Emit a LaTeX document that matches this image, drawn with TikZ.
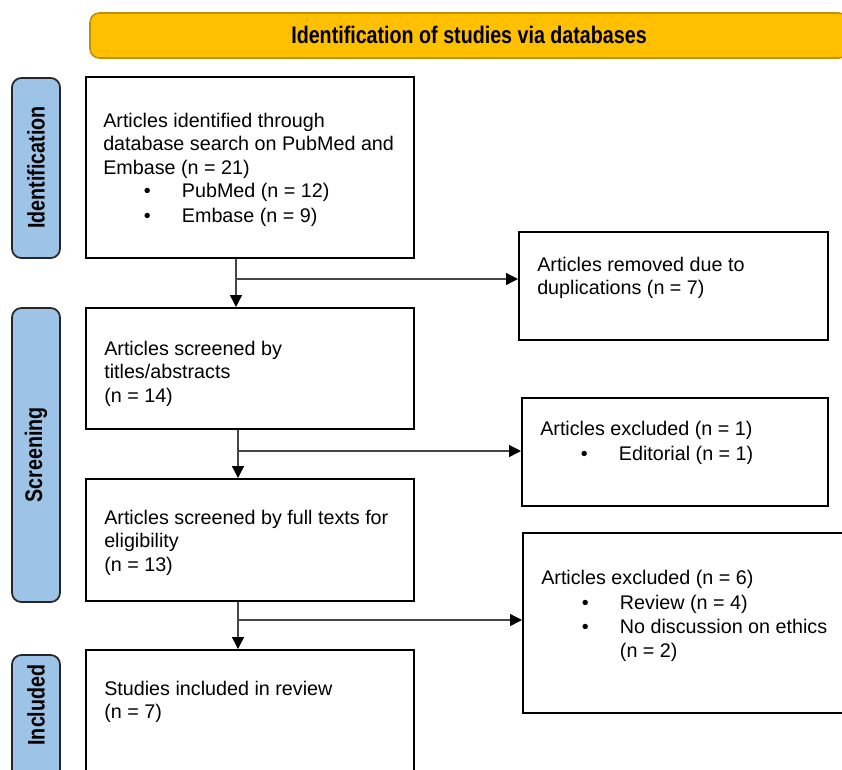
\documentclass[tikz,border=0pt]{standalone}
\usepackage{fontspec}
\setmainfont{Liberation Sans}
\usepackage{tikz}
\usetikzlibrary{positioning,arrows.meta,calc}
\definecolor{bannergold}{RGB}{255,192,0}
\definecolor{bannerline}{RGB}{191,144,0}
\definecolor{phaseblue}{RGB}{157,195,230}
\definecolor{flowgray}{RGB}{70,70,70}
\newcommand{\bitem}[1]{\hspace*{30.5pt}\makebox[28.5pt][l]{\textbullet}#1}
\newcommand{\narrowbf}[1]{\scalebox{0.82}[1]{\bfseries #1}}
\tikzset{
  flowarrow/.style={-{Triangle[length=9pt, width=9pt, color=black]}, line width=1pt, flowgray},
  recbox/.style={draw, line width=1.5pt, fill=white, inner sep=0pt},
  recttext/.style={anchor=north west, align=left, inner sep=0pt, font=\fontsize{14.8}{17.5}\selectfont},
  phasebox/.style={draw=black!85, line width=1.3pt, rounded corners=7pt, fill=phaseblue, inner sep=0pt, rotate=90, minimum height=36pt},
  phaselabel/.style={rotate=90, inner sep=0pt, font=\fontsize{18}{20}\selectfont},
  bannerbox/.style={draw=bannerline, line width=1.2pt, rounded corners=7pt, fill=bannergold, minimum width=568.5pt, minimum height=33.75pt}
}
\begin{document}
\begin{tikzpicture}[x=0.75pt, y=-0.75pt]
  \useasboundingbox (0,0) rectangle (842,769);
  \clip (0,0) rectangle (842,769);
  % banner
  \node[bannerbox] (banner) at (469,35.5) {};
  \node[font=\fontsize{18}{20}\selectfont, inner sep=0pt] (bannertext) at (469,35) {\narrowbf{Identification of studies via databases}};
  % phase labels
  \node[phasebox, minimum width=135pt] (phid) at (36,168) {};
  \node[phaselabel] (phidtext) at (36,167.5) {\narrowbf{Identification}};
  \node[phasebox, minimum width=220.5pt] (phscr) at (36,455) {};
  \node[phaselabel] (phscrtext) at (36,455) {\narrowbf{Screening}};
  \node[phasebox, minimum width=108.75pt] (phinc) at (36,727.5) {};
  \node[phaselabel] (phinctext) at (36,705) {\narrowbf{Included}};
  % main column
  \node[recbox, minimum width=246pt, minimum height=135.75pt] (ident) at (250,167.5) {};
  \node[recbox, minimum width=246pt, minimum height=90.75pt] (titles) at (250,368.5) {};
  \node[recbox, minimum width=246pt, minimum height=91.5pt] (fulltext) at (250,540) {};
  \node[recbox, minimum width=246pt, minimum height=112.5pt] (included) at (250,725) {};
  % side column
  \node[recbox, minimum width=231.75pt, minimum height=81pt] (removed) at (673.5,286) {};
  \node[recbox, minimum width=229.5pt, minimum height=81pt] (excl1) at (675,452) {};
  \node[recbox, minimum width=245.25pt, minimum height=135pt] (excl2) at (686.5,623) {};
  % texts
  \node[recttext] (identtext) at (103,113) {Articles identified through\\database search on PubMed and\\Embase (n = 21)\\\bitem{PubMed (n = 12)}\\[1pt]\bitem{Embase (n = 9)}};
  \node[recttext] (titlestext) at (104,341) {Articles screened by\\titles/abstracts\\(n = 14)};
  \node[recttext] (fulltexttext) at (104,510) {Articles screened by full texts for\\eligibility\\(n = 13)};
  \node[recttext] (includedtext) at (104,681) {Studies included in review\\(n = 7)};
  \node[recttext] (removedtext) at (537,257) {Articles removed due to\\duplications (n = 7)};
  \node[recttext] (excl1text) at (540,421) {Articles excluded (n = 1)\\[1pt]\bitem{Editorial (n = 1)}};
  \node[recttext] (excl2text) at (541,570) {Articles excluded (n = 6)\\[1pt]\bitem{Review (n = 4)}\\[1pt]\bitem{No discussion on ethics}\\\hspace*{59pt}(n = 2)};
  % connectors
  \coordinate (j1) at (236,279);
  \coordinate (j2) at (238,451);
  \coordinate (j3) at (238,620);
  \draw[flowarrow] (j1 |- ident.south) -- (j1 |- titles.north);
  \draw[flowarrow] (j1) -- (j1 -| removed.west);
  \draw[flowarrow] (j2 |- titles.south) -- (j2 |- fulltext.north);
  \draw[flowarrow] (j2) -- (j2 -| excl1.west);
  \draw[flowarrow] (j3 |- fulltext.south) -- (j3 |- included.north);
  \draw[flowarrow] (j3) -- (j3 -| excl2.west);
\end{tikzpicture}
\end{document}
